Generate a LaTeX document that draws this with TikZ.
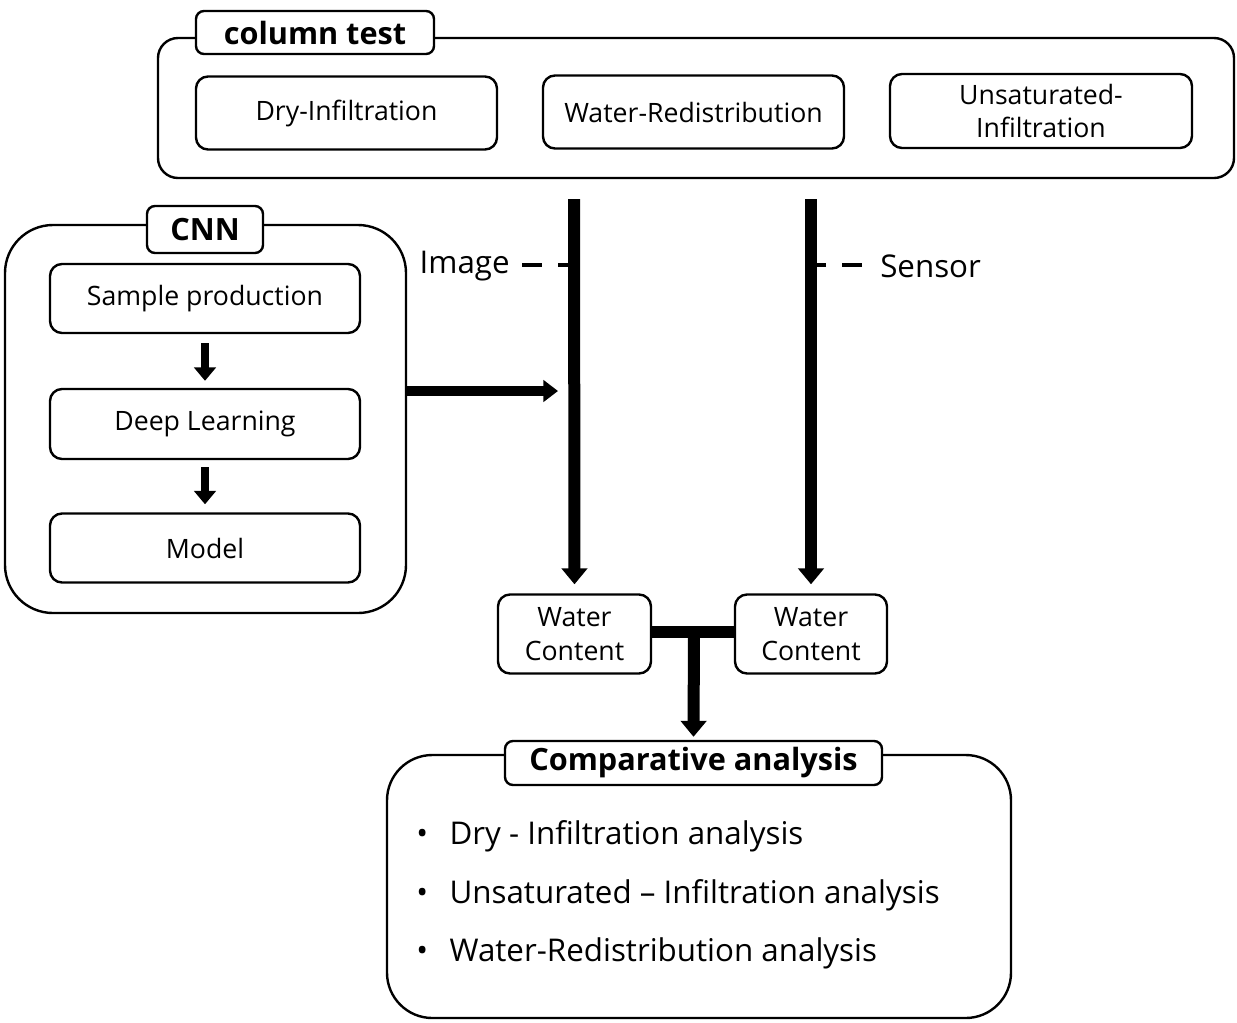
\documentclass[tikz,border=0pt]{standalone}
\usepackage{fontspec}
\setmainfont{Open Sans}
\usetikzlibrary{arrows.meta,calc}
\begin{document}
\begin{tikzpicture}[x=0.75pt,y=-0.75pt,
  box/.style={draw, line width=1.8pt, rounded corners=9pt, inner sep=0pt, align=center, font=\fontsize{20}{25}\selectfont},
  big/.style={draw, line width=1.8pt, inner sep=0pt},
  ttl/.style={draw, line width=1.8pt, rounded corners=6pt, fill=white, inner sep=0pt, font=\bfseries\fontsize{23}{26}\selectfont},
  txt/.style={inner sep=0pt, font=\fontsize{23.5}{27}\selectfont},
  bul/.style={inner sep=0pt, anchor=west, font=\fontsize{23.5}{27}\selectfont},
  bigarrow/.style={line width=9pt, -{Triangle[width=19pt,length=12pt]}},
  midarrow/.style={line width=7.5pt, -{Triangle[width=16pt,length=11pt]}},
  smallarrow/.style={line width=6pt, -{Triangle[width=16pt,length=10pt]}},
  bar/.style={line width=9pt},
  dashlink/.style={line width=3.5pt, dash pattern=on 15pt off 12pt}
]
\useasboundingbox (0,0) rectangle (1237,1022);

% column test
\node[big, rounded corners=15pt, minimum width=807pt, minimum height=105pt] (col) at (696,108) {};
\node[ttl, minimum width=178.5pt, minimum height=32.25pt] (colt) at (315,32.5) {column test};
\node[box, minimum width=225.75pt, minimum height=54.75pt] (dry) at (346.5,113) {Dry-Infiltration};
\node[box, minimum width=225.75pt, minimum height=54.75pt] (wr) at (693.5,112) {Water-Redistribution};
\node[box, minimum width=226.5pt, minimum height=55.5pt] (ui) at (1041,111) {Unsaturated-\\Infiltration};

% CNN
\node[big, rounded corners=36pt, minimum width=300.75pt, minimum height=291pt] (cnn) at (205.5,419) {};
\node[ttl, minimum width=87pt, minimum height=35.25pt] (cnnt) at (205,229.5) {CNN};
\node[box, minimum width=232.5pt, minimum height=51.75pt] (sp) at (205,298.5) {Sample production};
\node[box, minimum width=232.5pt, minimum height=52.5pt] (dl) at (205,424) {Deep Learning};
\node[box, minimum width=232.5pt, minimum height=51.75pt] (mo) at (205,548) {Model};
\draw[smallarrow] ($(sp.south)+(0,9)$) -- ($(dl.north)+(0,-7)$);
\draw[smallarrow] ($(dl.south)+(0,7)$) -- ($(mo.north)+(0,-8)$);

% vertical lines
\coordinate (imgtop) at (574,199);
\coordinate (sentop) at (811,199);
\node[box, minimum width=114.75pt, minimum height=59.25pt] (wc1) at (574.5,634) {Water\\Content};
\node[box, minimum width=114pt, minimum height=59.25pt] (wc2) at (811,634) {Water\\Content};
\draw[bigarrow] (imgtop) -- ($(wc1.north)+(0,-9)$);
\draw[bigarrow] (sentop) -- ($(wc2.north)+(0,-9)$);

% image / sensor labels
\node[txt, anchor=east] (img) at (510,266) {Image};
\node[txt, anchor=west] (sen) at (880,266) {Sensor};
\coordinate (imgd) at (568,265);
\coordinate (send) at (817,265);
\draw[dashlink] (imgd -| {$(img.east)+(12,0)$}) -- (imgd);
\draw[dashlink] (send -| {$(sen.west)+(-18,0)$}) -- (send);

% CNN to image line
\coordinate (cnnout) at (406,391);
\coordinate (imgin) at (558,391);
\draw[midarrow] (cnnout) -- (imgin);

% comparative analysis
\node[big, rounded corners=34pt, minimum width=468pt, minimum height=197.25pt] (ca) at (699,886.5) {};
\node[ttl, minimum width=282.75pt, minimum height=33pt] (cat) at (693.5,763) {Comparative analysis};

% T connector
\coordinate (tl) at (651,632);
\coordinate (tr) at (735,632);
\coordinate (tm) at (694,632);
\draw[bar] (tl) -- (tr);
\draw[bigarrow] ($(tm)+(0,-4)$) -- ($(cat.north)+(0,-3)$);

% bullets
\node[bul] (b1) at (416,836) {\makebox[25pt][l]{•}Dry - Infiltration analysis};
\node[bul] (b2) at (416,895) {\makebox[25pt][l]{•}Unsaturated – Infiltration analysis};
\node[bul] (b3) at (416,953) {\makebox[25pt][l]{•}Water-Redistribution analysis};
\end{tikzpicture}
\end{document}
